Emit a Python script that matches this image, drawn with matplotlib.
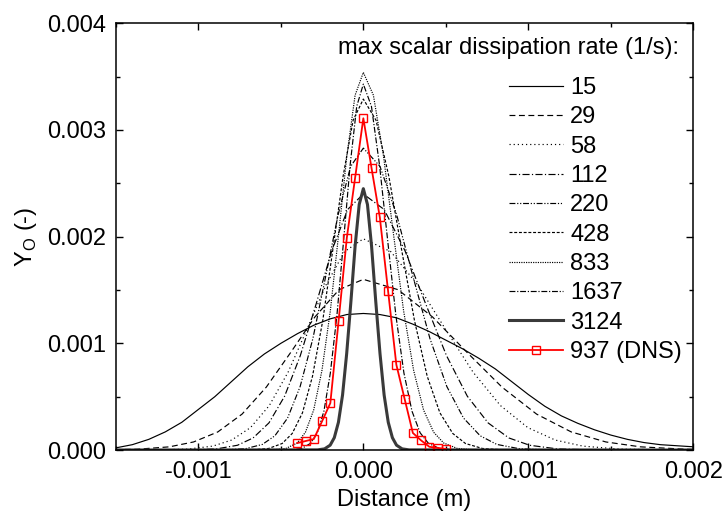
import numpy as np
import matplotlib
matplotlib.use('Agg')
import matplotlib.pyplot as plt
from matplotlib.ticker import MultipleLocator, FormatStrFormatter

plt.rcParams['font.family'] = ['Liberation Sans', 'DejaVu Sans']
plt.rcParams['axes.unicode_minus'] = False
plt.rcParams['font.size'] = 17

# distance in mm, Y_O in units of 1e-3
x15 = [-1.5, -1.4, -1.3, -1.2, -1.1, -1.0, -0.9, -0.8, -0.7, -0.6, -0.5, -0.4, -0.3, -0.2, -0.1, 0.0,
       0.1, 0.2, 0.3, 0.4, 0.5, 0.6, 0.7, 0.8, 0.9, 1.0, 1.1, 1.2, 1.3, 1.4, 1.5, 1.6, 1.7, 1.8, 1.9, 2.0]
y15 = [0.02, 0.05, 0.10, 0.17, 0.26, 0.38, 0.50, 0.64, 0.78, 0.90, 1.00, 1.09, 1.17, 1.23, 1.27, 1.28,
       1.27, 1.24, 1.18, 1.11, 1.03, 0.95, 0.86, 0.76, 0.64, 0.52, 0.41, 0.32, 0.25, 0.19, 0.14, 0.10, 0.07, 0.05, 0.04, 0.03]

x29 = [-1.617, -1.372, -1.176, -1.029, -0.882, -0.735, -0.588, -0.441, -0.294, -0.147, 0.0,
       0.21, 0.42, 0.63, 0.84, 1.05, 1.26, 1.47, 1.68, 1.96, 2.31]
y29 = [0.0008, 0.0070, 0.0296, 0.0754, 0.1694, 0.3365, 0.5898, 0.9128, 1.2464, 1.5032, 1.60,
       1.5032, 1.2464, 0.9128, 0.5898, 0.3365, 0.1694, 0.0754, 0.0296, 0.0070, 0.0008]

x58 = [-1.5, -1.254, -1.064, -0.912, -0.798, -0.684, -0.570, -0.456, -0.342, -0.228, -0.114, 0.0,
       0.166, 0.332, 0.499, 0.665, 0.831, 0.997, 1.163, 1.330, 1.551, 1.828, 2.0]
y58 = [0.0, 0.0010, 0.0087, 0.0366, 0.0933, 0.2097, 0.4164, 0.7298, 1.1296, 1.5424, 1.8602, 1.98,
       1.8602, 1.5424, 1.1296, 0.7298, 0.4164, 0.2097, 0.0933, 0.0366, 0.0087, 0.0010, 0.0]

x112 = [-1.5, -1.049, -0.890, -0.763, -0.668, -0.572, -0.477, -0.382, -0.286, -0.191, -0.095, 0.0,
        0.126, 0.252, 0.378, 0.504, 0.630, 0.756, 0.882, 1.008, 1.176, 1.386, 2.0]
y112 = [0.0, 0.0013, 0.0105, 0.0444, 0.1130, 0.2542, 0.5047, 0.8846, 1.3692, 1.8696, 2.2548, 2.40,
        2.2548, 1.8696, 1.3692, 0.8846, 0.5047, 0.2542, 0.1130, 0.0444, 0.0105, 0.0013, 0.0]

x220 = [-1.5, -0.842, -0.714, -0.612, -0.536, -0.459, -0.383, -0.306, -0.230, -0.153, -0.077, 0.0,
        0.101, 0.202, 0.303, 0.404, 0.506, 0.607, 0.708, 0.809, 0.944, 1.112, 2.0]
y220 = [0.0, 0.0015, 0.0124, 0.0524, 0.1333, 0.2997, 0.5951, 1.0431, 1.6145, 2.2046, 2.6588, 2.83,
        2.6588, 2.2046, 1.6145, 1.0431, 0.5951, 0.2997, 0.1333, 0.0524, 0.0124, 0.0015, 0.0]

x428 = [-1.5, -0.677, -0.574, -0.492, -0.431, -0.369, -0.308, -0.246, -0.185, -0.123, -0.062, 0.0,
        0.077, 0.155, 0.232, 0.310, 0.387, 0.464, 0.542, 0.619, 0.722, 0.851, 2.0]
y428 = [0.0, 0.0017, 0.0144, 0.0609, 0.1550, 0.3484, 0.6919, 1.2127, 1.8769, 2.5629, 3.0910, 3.29,
        3.0910, 2.5629, 1.8769, 1.2127, 0.6919, 0.3484, 0.1550, 0.0609, 0.0144, 0.0017, 0.0]

x833 = [-1.5, -0.551, -0.468, -0.401, -0.351, -0.301, -0.251, -0.200, -0.150, -0.100, -0.050, 0.0,
        0.061, 0.122, 0.183, 0.244, 0.305, 0.365, 0.426, 0.487, 0.568, 0.670, 2.0]
y833 = [0.0, 0.0019, 0.0155, 0.0655, 0.1667, 0.3749, 0.7445, 1.3048, 2.0196, 2.7577, 3.3258, 3.54,
        3.3258, 2.7577, 2.0196, 1.3048, 0.7445, 0.3749, 0.1667, 0.0655, 0.0155, 0.0019, 0.0]

x1637 = [-1.5, -0.439, -0.372, -0.319, -0.279, -0.239, -0.200, -0.160, -0.120, -0.080, -0.040, 0.0,
         0.049, 0.098, 0.148, 0.197, 0.246, 0.295, 0.344, 0.394, 0.459, 0.541, 2.0]
y1637 = [0.0, 0.0018, 0.0150, 0.0635, 0.1616, 0.3632, 0.7213, 1.2643, 1.9568, 2.6720, 3.2225, 3.43,
         3.2225, 2.6720, 1.9568, 1.2643, 0.7213, 0.3632, 0.1616, 0.0635, 0.0150, 0.0018, 0.0]

x3124 = [-1.5, -0.277, -0.235, -0.201, -0.176, -0.151, -0.126, -0.101, -0.075, -0.050, -0.025, 0.0,
         0.025, 0.050, 0.075, 0.101, 0.126, 0.151, 0.176, 0.201, 0.235, 0.277, 2.0]
y3124 = [0.0, 0.0013, 0.0107, 0.0453, 0.1154, 0.2595, 0.5152, 0.9031, 1.3977, 1.9086, 2.3018, 2.45,
         2.3018, 1.9086, 1.3977, 0.9031, 0.5152, 0.2595, 0.1154, 0.0453, 0.0107, 0.0013, 0.0]

# DNS (937 1/s)
x_dns = [-0.40, -0.35, -0.30, -0.25, -0.20, -0.15, -0.10, -0.05, 0.0, 0.05,
         0.10, 0.15, 0.20, 0.25, 0.30, 0.35, 0.40, 0.45, 0.50]
y_dns = [0.065, 0.084, 0.103, 0.27, 0.44, 1.21, 1.99, 2.55, 3.11, 2.64,
         2.18, 1.49, 0.80, 0.48, 0.16, 0.09, 0.03, 0.02, 0.01]

labels = ['15', '29', '58', '112', '220', '428', '833', '1637', '3124']
curves = [(x15, y15), (x29, y29), (x58, y58), (x112, y112), (x220, y220),
          (x428, y428), (x833, y833), (x1637, y1637), (x3124, y3124)]
styles = ['-', (0, (5, 3)), (0, (1, 2.5)), (0, (6, 2, 1, 2)), (0, (5, 1.5, 1, 1.5, 1, 1.5)),
          (0, (2.5, 1.5)), (0, (1, 1)), (0, (5, 1.5, 1, 1.5)), '-']

fig = plt.figure(figsize=(7.23, 5.15), dpi=100)
ax = fig.add_axes([0.1602, 0.1262, 0.7988, 0.8285])

handles = []
for (xs, ys), lab, ls in zip(curves, labels, styles):
    if lab == '3124':
        lw, col = 2.2, '#3a3a3a'
    else:
        lw, col = 0.85, 'black'
    h, = ax.plot(np.array(xs) * 1e-3, np.array(ys) * 1e-3, ls=ls, lw=lw, color=col, label=lab)
    handles.append(h)

h, = ax.plot(np.array(x_dns) * 1e-3, np.array(y_dns) * 1e-3, color='red', lw=1.3,
             marker='s', ms=6, mfc='none', mec='red', mew=1.0, label='937 (DNS)')
handles.append(h)

ax.set_xlim(-0.0015, 0.002)
ax.set_ylim(0, 0.004)
ax.xaxis.set_major_locator(MultipleLocator(0.001))
ax.xaxis.set_minor_locator(MultipleLocator(0.0005))
ax.yaxis.set_major_locator(MultipleLocator(0.001))
ax.yaxis.set_minor_locator(MultipleLocator(0.0005))
ax.xaxis.set_major_formatter(FormatStrFormatter('%.3f'))
ax.yaxis.set_major_formatter(FormatStrFormatter('%.3f'))
ax.tick_params(which='both', direction='in', top=True, right=True, width=1.0)
ax.tick_params(which='major', length=5, labelsize=17)
ax.tick_params(which='minor', length=3)
ax.tick_params(axis='y', pad=7)
ax.tick_params(axis='x', pad=8)
for s in ax.spines.values():
    s.set_linewidth(1.1)

ax.set_xlabel('Distance (m)', fontsize=17, labelpad=4)
ax.set_ylabel('Y$_\\mathregular{O}$ (-)', fontsize=17, labelpad=6)

fig.text(338 / 723, 1 - 48 / 515, 'max scalar dissipation rate (1/s):', fontsize=17,
         ha='left', va='center')
leg = ax.legend(handles=handles, loc='upper left', bbox_to_anchor=(509 / 723, 1 - 77 / 515),
                bbox_transform=fig.transFigure, frameon=False, borderpad=0, borderaxespad=0,
                handlelength=2.29, handletextpad=0.3, labelspacing=0.31, fontsize=17)

fig.savefig('out.png', dpi=100)
